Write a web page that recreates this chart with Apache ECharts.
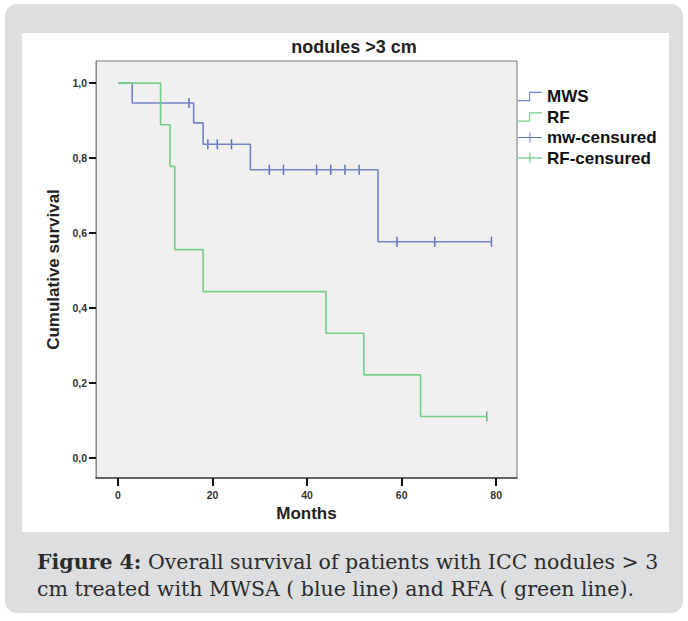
<!DOCTYPE html>
<html>
<head>
<meta charset="utf-8">
<script src="https://cdn.jsdelivr.net/npm/echarts@6/dist/echarts.min.js"></script>
<style>
  html, body { margin: 0; padding: 0; background: #fff; }
  #panel { position: absolute; left: 5px; top: 4px; width: 678px; height: 609px; background: #dddee0; border-radius: 12px; }
  #sheet { position: absolute; left: 22px; top: 33px; width: 647px; height: 499px; background: #fff; }
  #chart { position: absolute; left: 0; top: 0; width: 688px; height: 621px; }
</style>
</head>
<body>
<div id="panel"></div>
<div id="sheet"></div>
<div id="chart"></div>
<script>
const xTicks = [0, 20, 40, 60, 80];
const yTicks = [0, 0.2, 0.4, 0.6, 0.8, 1.0];

// MWS curve (event times, survival after step)
const mwsTimes = [0, 3, 16, 18, 28, 55, 79];
const mwsSurv = [1, 0.947, 0.894, 0.837, 0.769, 0.577, 0.577];
const mwsCensTimes = [15, 19, 21, 24, 32, 35, 42, 45, 48, 51, 59, 67, 79];
const mwsCensSurv = [0.947, 0.837, 0.837, 0.837, 0.769, 0.769, 0.769, 0.769, 0.769, 0.769, 0.577, 0.577, 0.577];

// RF curve
const rfTimes = [0, 9, 11, 12, 18, 44, 52, 64, 78];
const rfSurv = [1, 0.889, 0.778, 0.556, 0.444, 0.333, 0.222, 0.111, 0.111];
const rfCensTimes = [78];
const rfCensSurv = [0.111];

const blue = '#7083c9';
const green = '#72cf86';
const font = "'Liberation Sans', Arial, sans-serif";
const serif = "'DejaVu Serif', 'Liberation Serif', serif";

const zip = (xs, ys) => xs.map((x, i) => [x, ys[i]]);

const stepIcon = 'path://M0,9 H12 V0 H26 V1.2 H13.2 V10.2 H0 Z';
const plusIcon = 'path://M0,5 H12.5 V0 H13.5 V5 H26 V6 H13.5 V11 H12.5 V6 H0 Z';

const chart = echarts.init(document.getElementById('chart'), null, { renderer: 'svg' });

const option = {
  animation: false,
  title: {
    text: 'nodules >3 cm',
    left: 354,
    top: 38,
    padding: 0,
    textAlign: 'center',
    textStyle: { fontFamily: font, fontSize: 18, fontWeight: 'bold', color: '#222' }
  },
  legend: {
    orient: 'vertical',
    left: 518,
    top: 88,
    padding: 0,
    itemWidth: 24,
    itemHeight: 10,
    itemGap: 3.5,
    textStyle: { fontFamily: font, fontSize: 17, fontWeight: 'bold', color: '#111' },
    data: [
      { name: 'MWS', icon: stepIcon },
      { name: 'RF', icon: stepIcon },
      { name: 'mw-censured', icon: plusIcon },
      { name: 'RF-censured', icon: plusIcon }
    ]
  },
  grid: {
    left: 96,
    top: 61,
    width: 421,
    height: 417,
    show: true,
    backgroundColor: '#f0f0f0',
    borderColor: '#777',
    borderWidth: 1
  },
  xAxis: {
    type: 'value',
    min: -4.66,
    max: 84.4,
    name: 'Months',
    nameLocation: 'middle',
    nameGap: 25,
    nameTextStyle: { fontFamily: font, fontSize: 17, fontWeight: 'bold', color: '#222' },
    splitLine: { show: false },
    axisLine: { show: true, onZero: false, lineStyle: { color: '#444', width: 1.5 } },
    axisTick: { show: true, customValues: xTicks, length: 8, lineStyle: { color: '#111', width: 2 } },
    axisLabel: { customValues: xTicks, margin: 11, fontFamily: font, fontSize: 10.5, fontWeight: 'bold', color: '#333' }
  },
  yAxis: {
    type: 'value',
    min: -0.053,
    max: 1.059,
    name: 'Cumulative survival',
    nameLocation: 'middle',
    nameRotate: 90,
    nameGap: 33,
    nameTextStyle: { fontFamily: font, fontSize: 17, fontWeight: 'bold', color: '#222' },
    splitLine: { show: false },
    axisLine: { show: true, onZero: false, lineStyle: { color: '#888', width: 1 } },
    axisTick: { show: true, customValues: yTicks, length: 7, lineStyle: { color: '#111', width: 2 } },
    axisLabel: {
      customValues: yTicks,
      margin: 9,
      fontFamily: font,
      fontSize: 10.5,
      fontWeight: 'bold',
      color: '#333',
      formatter: v => v.toFixed(1).replace('.', ',')
    }
  },
  series: [
    {
      name: 'MWS',
      type: 'line',
      step: 'end',
      showSymbol: false,
      data: zip(mwsTimes, mwsSurv),
      itemStyle: { color: blue },
      lineStyle: { color: blue, width: 1.6 }
    },
    {
      name: 'RF',
      type: 'line',
      step: 'end',
      showSymbol: false,
      data: zip(rfTimes, rfSurv),
      itemStyle: { color: green },
      lineStyle: { color: green, width: 1.6 }
    },
    {
      name: 'mw-censured',
      type: 'scatter',
      symbol: 'rect',
      symbolSize: [1.5, 10],
      data: zip(mwsCensTimes, mwsCensSurv),
      itemStyle: { color: '#5f72bd', opacity: 1 }
    },
    {
      name: 'RF-censured',
      type: 'scatter',
      symbol: 'rect',
      symbolSize: [1.5, 10],
      data: zip(rfCensTimes, rfCensSurv),
      itemStyle: { color: '#4fc068', opacity: 1 }
    }
  ],
  graphic: [
    {
      type: 'text',
      left: 37,
      top: 551,
      style: {
        text: '{b|Figure 4:} Overall survival of patients with ICC nodules > 3',
        fontFamily: serif,
        fontSize: 20.5,
        fill: '#2b2b2b',
        rich: { b: { fontFamily: serif, fontSize: 20.5, fontWeight: 'bold', fill: '#2b2b2b' } }
      }
    },
    {
      type: 'text',
      left: 37,
      top: 578,
      style: {
        text: 'cm treated with MWSA ( blue line) and RFA ( green line).',
        fontFamily: serif,
        fontSize: 20.5,
        fill: '#2b2b2b'
      }
    }
  ]
};

chart.setOption(option);
</script>
</body>
</html>
